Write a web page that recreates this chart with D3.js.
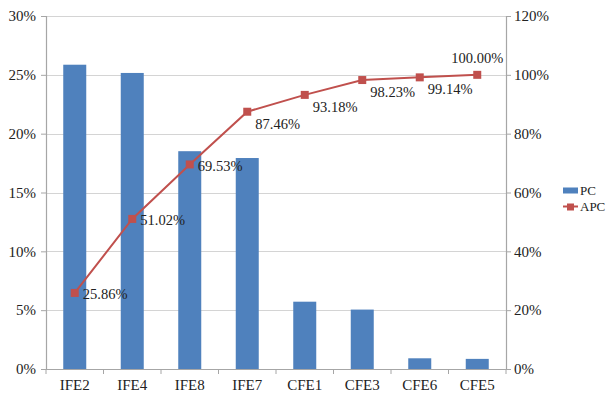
<html>
<script src='https://d3js.org/d3.v7.min.js'></script>
<style>
body { margin: 0; background-color: #ffffff; }
svg text { font-family: "Liberation Serif", "Times New Roman", serif !important; }
</style>
<body>
<script>
// chart values
var categories = ["IFE2", "IFE4", "IFE8", "IFE7", "CFE1", "CFE3", "CFE6", "CFE5"];
var pc = [25.86, 25.16, 18.51, 17.93, 5.72, 5.05, 0.91, 0.86];
var apc = [25.86, 51.02, 69.53, 87.46, 93.18, 98.23, 99.14, 100.00];
var leftTicks = [0, 5, 10, 15, 20, 25, 30];
var rightTicks = [0, 20, 40, 60, 80, 100, 120];

var margin = {top: 16, right: 104, bottom: 27, left: 46},
    width = 610 - margin.left - margin.right,
    height = 396 - margin.top - margin.bottom;

var svg = d3.select("body").append("svg")
    .attr("width", 610)
    .attr("height", 396)
  .append("g")
    .attr("transform", "translate(" + margin.left + "," + margin.top + ")");

var x = d3.scaleBand().domain(categories).range([0, width]).paddingInner(0.6).paddingOuter(0.3);
var y = d3.scaleLinear().domain([0, 30]).range([height, 0]);
var y2 = d3.scaleLinear().domain([0, 120]).range([height, 0]);

// gridlines
svg.selectAll(".grid")
    .data(leftTicks.filter(function(d){ return d > 0; }))
  .enter().append("line")
    .attr("x1", 0).attr("x2", width)
    .attr("y1", function(d){ return Math.round(y(d)) + 0.5; })
    .attr("y2", function(d){ return Math.round(y(d)) + 0.5; })
    .attr("stroke", "#d4d4d4").attr("stroke-width", 1.2);

// bars
svg.selectAll(".bar")
    .data(pc)
  .enter().append("rect")
    .attr("x", function(d, i){ return x(categories[i]); })
    .attr("width", x.bandwidth())
    .attr("y", function(d){ return y(d); })
    .attr("height", function(d){ return height - y(d); })
    .attr("fill", "#4f81bd");

// axes
var left = svg.append("g")
    .call(d3.axisLeft(y).tickValues(leftTicks).tickSize(5).tickPadding(5).tickFormat(function(d){ return d + "%"; }));
var right = svg.append("g")
    .attr("transform", "translate(" + width + ",0)")
    .call(d3.axisRight(y2).tickValues(rightTicks).tickSize(5).tickPadding(3).tickFormat(function(d){ return d + "%"; }));
var bottom = svg.append("g")
    .attr("transform", "translate(0," + height + ")")
    .call(d3.axisBottom(x).tickSize(0).tickPadding(10));

[left, right, bottom].forEach(function(g){
  g.attr("font-size", 15).attr("font-family", null);
  g.select(".domain").attr("stroke", "#a6a6a6").attr("stroke-width", 1.2);
  g.selectAll(".tick line").attr("stroke", "#a6a6a6");
  g.selectAll("text").attr("fill", "#222");
});

// category separators on x axis
var step = x.step();
svg.selectAll(".xsep")
    .data(d3.range(categories.length + 1))
  .enter().append("line")
    .attr("x1", function(i){ return x(categories[0]) - (x.paddingInner() * step) / 2 + i * step; })
    .attr("x2", function(i){ return x(categories[0]) - (x.paddingInner() * step) / 2 + i * step; })
    .attr("y1", height).attr("y2", height + 5)
    .attr("stroke", "#a6a6a6");

// cumulative line
var cx = function(i){ return x(categories[i]) + x.bandwidth() / 2; };
var line = d3.line()
    .x(function(d, i){ return cx(i); })
    .y(function(d){ return y2(d); });

svg.append("path")
    .datum(apc)
    .attr("d", line)
    .attr("fill", "none")
    .attr("stroke", "#c0504d")
    .attr("stroke-width", 2);

svg.selectAll(".pt")
    .data(apc)
  .enter().append("rect")
    .attr("x", function(d, i){ return cx(i) - 4; })
    .attr("y", function(d){ return y2(d) - 4; })
    .attr("width", 8).attr("height", 8)
    .attr("fill", "#c0504d");

// point labels
svg.selectAll(".lbl")
    .data(apc)
  .enter().append("text")
    .attr("x", function(d, i){
      if (i == apc.length - 1) return cx(i);
      return cx(i) + 8;
    })
    .attr("y", function(d, i){
      if (i == apc.length - 1) return y2(d) - 17;
      if (i < 3) return y2(d) + 1;
      return y2(d) + 12;
    })
    .attr("dy", "0.35em")
    .attr("text-anchor", function(d, i){ return i == apc.length - 1 ? "middle" : "start"; })
    .attr("font-size", "14.5px")
    .attr("fill", "#222")
    .text(function(d){ return d.toFixed(2) + "%"; });

// legend
var lg = svg.append("g").attr("transform", "translate(" + (width + 57) + "," + (y2(60) - 2) + ")");
lg.append("rect").attr("x", 0).attr("y", -3).attr("width", 15).attr("height", 6).attr("fill", "#4f81bd");
lg.append("text").attr("x", 17).attr("y", 0).attr("dy", "0.35em").attr("font-size", "13px").attr("fill", "#222").text("PC");
lg.append("line").attr("x1", 0).attr("x2", 15).attr("y1", 16).attr("y2", 16).attr("stroke", "#c0504d").attr("stroke-width", 2);
lg.append("rect").attr("x", 4).attr("y", 13).attr("width", 7).attr("height", 7).attr("fill", "#c0504d");
lg.append("text").attr("x", 17).attr("y", 16).attr("dy", "0.35em").attr("font-size", "13px").attr("fill", "#222").text("APC");
</script>
</body>
</html>
